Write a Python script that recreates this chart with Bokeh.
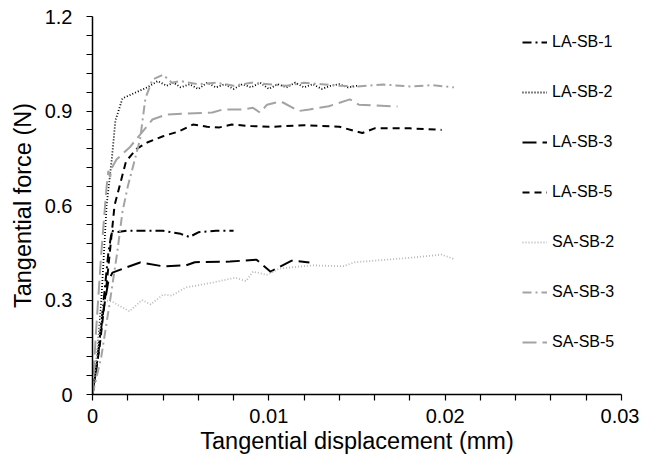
from bokeh.plotting import figure
from bokeh.models import FixedTicker, Range1d, Legend, LegendItem
from bokeh.embed import file_html
from bokeh.resources import INLINE

# ---- data ----
la_sb_1_x = [0, 0.0003, 0.0006, 0.0009, 0.0011, 0.0013, 0.002, 0.003, 0.004, 0.005, 0.0055, 0.006, 0.007, 0.008]
la_sb_1_y = [0, 0.12, 0.28, 0.45, 0.52, 0.515, 0.52, 0.52, 0.52, 0.51, 0.50, 0.515, 0.52, 0.52]

la_sb_2_x = [0, 0.0003, 0.0005, 0.0008, 0.0011, 0.0013, 0.0017, 0.0025, 0.0031, 0.0037, 0.0042, 0.0046,
             0.005, 0.0055, 0.006, 0.0065, 0.007, 0.0075, 0.008, 0.0085, 0.009, 0.0095, 0.01, 0.0105,
             0.011, 0.0115, 0.012, 0.0125, 0.013, 0.0135, 0.014, 0.0145, 0.015]
la_sb_2_y = [0, 0.15, 0.30, 0.60, 0.75, 0.87, 0.94, 0.96, 0.975, 0.995, 0.98, 0.99,
             0.975, 0.985, 0.97, 0.99, 0.975, 0.985, 0.97, 0.985, 0.975, 0.99, 0.97, 0.985,
             0.975, 0.99, 0.975, 0.985, 0.97, 0.98, 0.985, 0.975, 0.98]

la_sb_3_x = [0, 0.0003, 0.0006, 0.0009, 0.00113, 0.0019, 0.0027, 0.004, 0.0053, 0.0058, 0.0078, 0.0093, 0.0101, 0.0113, 0.0123]
la_sb_3_y = [0, 0.12, 0.26, 0.36, 0.387, 0.403, 0.419, 0.407, 0.41, 0.42, 0.422, 0.428, 0.39, 0.425, 0.419]

la_sb_5_x = [0, 0.0004, 0.0008, 0.00125, 0.0019, 0.0025, 0.0031, 0.004, 0.0049, 0.0057, 0.0065, 0.0072,
             0.0079, 0.009, 0.0102, 0.012, 0.014, 0.0153, 0.016, 0.018, 0.0198]
la_sb_5_y = [0, 0.15, 0.35, 0.60, 0.74, 0.78, 0.80, 0.82, 0.835, 0.857, 0.85, 0.848,
             0.857, 0.852, 0.85, 0.855, 0.85, 0.83, 0.845, 0.845, 0.84]

sa_sb_2_x = [0, 0.0003, 0.0006, 0.0011, 0.0021, 0.0028, 0.0033, 0.004, 0.0045, 0.0053, 0.0068, 0.0081,
             0.0087, 0.0091, 0.0099, 0.0106, 0.0125, 0.0142, 0.0149, 0.018, 0.0198, 0.0205]
sa_sb_2_y = [0, 0.15, 0.30, 0.295, 0.264, 0.30, 0.286, 0.317, 0.314, 0.34, 0.355, 0.371,
             0.36, 0.39, 0.38, 0.40, 0.41, 0.407, 0.42, 0.434, 0.444, 0.43]

sa_sb_3_x = [0, 0.0005, 0.001, 0.0014, 0.0017, 0.002, 0.0027, 0.003, 0.0034, 0.004, 0.0045, 0.005,
             0.006, 0.007, 0.008, 0.009, 0.01, 0.011, 0.012, 0.013, 0.014, 0.015, 0.0165, 0.018, 0.0193, 0.0205]
sa_sb_3_y = [0, 0.12, 0.30, 0.45, 0.58, 0.66, 0.81, 0.94, 1.0, 1.015, 0.99, 0.995,
             0.985, 0.99, 0.98, 0.99, 0.985, 0.98, 0.99, 0.985, 0.98, 0.978, 0.984, 0.978, 0.982, 0.975]

sa_sb_5_x = [0, 0.0002, 0.0005, 0.0008, 0.0009, 0.001, 0.0011, 0.00136, 0.0021, 0.0027, 0.0034, 0.0042,
             0.0068, 0.0074, 0.0085, 0.0091, 0.0095, 0.0099, 0.0106, 0.0108, 0.0117, 0.0123, 0.0134,
             0.0146, 0.0151, 0.0173]
sa_sb_5_y = [0, 0.2, 0.45, 0.66, 0.71, 0.69, 0.72, 0.746, 0.784, 0.825, 0.873, 0.889,
             0.895, 0.905, 0.905, 0.91, 0.895, 0.92, 0.93, 0.927, 0.9, 0.905, 0.915,
             0.937, 0.92, 0.914]

x_ticks = [0, 0.01, 0.02, 0.03]
x_tick_labels = ["0", "0.01", "0.02", "0.03"]
y_ticks = [0, 0.3, 0.6, 0.9, 1.2]
y_tick_labels = ["0", "0.3", "0.6", "0.9", "1.2"]
x_minor_step = 0.002
y_minor_step = 0.06

FONT = "Liberation Sans"

p = figure(frame_width=529, frame_height=378, output_backend="svg", toolbar_location=None,
           x_range=Range1d(0, 0.03), y_range=Range1d(0, 1.2),
           min_border_left=92, min_border_right=18, min_border_top=16, min_border_bottom=58)
p.outline_line_color = None
p.xgrid.grid_line_color = None
p.ygrid.grid_line_color = None

series = [
    ("LA-SB-1", la_sb_1_x, la_sb_1_y, "#000000", 2.0, "9 4 2 4"),
    ("LA-SB-2", la_sb_2_x, la_sb_2_y, "#000000", 1.8, "1 2"),
    ("LA-SB-3", la_sb_3_x, la_sb_3_y, "#000000", 2.0, "14 6"),
    ("LA-SB-5", la_sb_5_x, la_sb_5_y, "#000000", 2.0, "7 5"),
    ("SA-SB-2", sa_sb_2_x, sa_sb_2_y, "#b8b8b8", 1.8, "1 2"),
    ("SA-SB-3", sa_sb_3_x, sa_sb_3_y, "#a3a3a3", 2.0, "9 4 2 4"),
    ("SA-SB-5", sa_sb_5_x, sa_sb_5_y, "#a3a3a3", 2.0, "14 6"),
]

items = []
for name, xs, ys, col, w, dash in series:
    r = p.line(xs, ys, line_color=col, line_width=w, line_dash=dash)
    items.append(LegendItem(label=name, renderers=[r]))

legend = Legend(items=items, location=(430, 42), orientation="vertical",
                glyph_width=25, glyph_height=20, label_height=20, spacing=30,
                label_standoff=5, padding=5, margin=0,
                label_text_font=FONT, label_text_font_size="16px", label_text_color="#000000",
                background_fill_alpha=0, border_line_color=None)
p.add_layout(legend, "center")


def all_ticks(major, step):
    n = int(round((major[-1] - major[0]) / step))
    return [round(major[0] + i * step, 6) for i in range(n + 1)]


for ax, ticks, labels, step in ((p.xaxis[0], x_ticks, x_tick_labels, x_minor_step),
                                (p.yaxis[0], y_ticks, y_tick_labels, y_minor_step)):
    tks = all_ticks(ticks, step)
    ax.ticker = FixedTicker(ticks=tks)
    lab = {round(t, 6): l for t, l in zip(ticks, labels)}
    ax.major_label_overrides = {t: lab.get(t, "") for t in tks}
    ax.axis_line_color = "#000000"
    ax.axis_line_width = 1.5
    ax.major_tick_line_color = "#000000"
    ax.major_tick_line_width = 1.2
    ax.major_tick_in = 0
    ax.major_tick_out = 6
    ax.minor_tick_line_color = None
    ax.major_label_text_font = FONT
    ax.major_label_text_font_size = "20px"
    ax.major_label_text_color = "#000000"
    ax.axis_label_text_font = FONT
    ax.axis_label_text_font_size = "23.5px"
    ax.axis_label_text_font_style = "normal"
    ax.axis_label_text_color = "#000000"

p.xaxis[0].axis_label = "Tangential displacement (mm)"
p.yaxis[0].axis_label = "Tangential force (N)"
p.xaxis[0].major_label_standoff = 8
p.yaxis[0].major_label_standoff = 14
p.xaxis[0].axis_label_standoff = 2
p.yaxis[0].axis_label_standoff = 6

open("out.html", "w").write(file_html(p, INLINE))
